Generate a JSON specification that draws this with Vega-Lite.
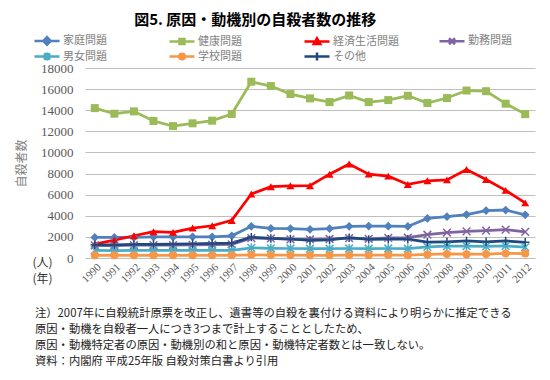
{
  "$schema": "https://vega.github.io/schema/vega-lite/v6.json",
  "background": "white",
  "padding": {"left": 15, "top": 13, "right": 12, "bottom": 5},
  "title": {
    "text": "図5. 原因・動機別の自殺者数の推移",
    "font": "Noto Sans CJK JP",
    "fontSize": 15,
    "fontWeight": "bold",
    "color": "#000000",
    "anchor": "middle",
    "dx": -20,
    "offset": 6
  },
  "vconcat": [
    {
      "width": 450,
      "height": 190,
      "title": {
        "text": [
          "注）2007年に自殺統計原票を改正し、遺書等の自殺を裏付ける資料により明らかに推定できる",
          "原因・動機を自殺者一人につき3つまで計上することとしたため、",
          "原因・動機特定者の原因・動機別の和と原因・動機特定者数とは一致しない。",
          "資料：内閣府 平成25年版 自殺対策白書より引用"
        ],
        "orient": "bottom",
        "anchor": "start",
        "frame": "group",
        "dx": -50,
        "offset": 23,
        "font": "Noto Sans CJK JP",
        "fontSize": 11.3,
        "fontWeight": "normal",
        "color": "#222222",
        "lineHeight": 16
      },
      "data": {
        "values": [
          {"year": "1990", "家庭問題": 1950, "健康問題": 14200, "経済生活問題": 1320, "勤務問題": 1200, "男女問題": 720, "学校問題": 250, "その他": 1250},
          {"year": "1991", "家庭問題": 1950, "健康問題": 13670, "経済生活問題": 1700, "勤務問題": 1180, "男女問題": 710, "学校問題": 250, "その他": 1250},
          {"year": "1992", "家庭問題": 1960, "健康問題": 13890, "経済生活問題": 2110, "勤務問題": 1210, "男女問題": 720, "学校問題": 250, "その他": 1280},
          {"year": "1993", "家庭問題": 1990, "健康問題": 12980, "経済生活問題": 2490, "勤務問題": 1230, "男女問題": 720, "学校問題": 250, "その他": 1300},
          {"year": "1994", "家庭問題": 2000, "健康問題": 12500, "経済生活問題": 2425, "勤務問題": 1220, "男女問題": 720, "学校問題": 250, "その他": 1320},
          {"year": "1995", "家庭問題": 2010, "健康問題": 12760, "経済生活問題": 2835, "勤務問題": 1250, "男女問題": 720, "学校問題": 250, "その他": 1350},
          {"year": "1996", "家庭問題": 2010, "健康問題": 13010, "経済生活問題": 3055, "勤務問題": 1260, "男女問題": 720, "学校問題": 250, "その他": 1380},
          {"year": "1997", "家庭問題": 2100, "健康問題": 13640, "経済生活問題": 3560, "勤務問題": 1300, "男女問題": 730, "学校問題": 250, "その他": 1420},
          {"year": "1998", "家庭問題": 3000, "健康問題": 16700, "経済生活問題": 6058, "勤務問題": 1880, "男女問題": 960, "学校問題": 300, "その他": 1980},
          {"year": "1999", "家庭問題": 2800, "健康問題": 16290, "経済生活問題": 6758, "勤務問題": 1850, "男女問題": 920, "学校問題": 280, "その他": 1850},
          {"year": "2000", "家庭問題": 2790, "健康問題": 15530, "経済生活問題": 6838, "勤務問題": 1760, "男女問題": 900, "学校問題": 270, "その他": 1800},
          {"year": "2001", "家庭問題": 2720, "健康問題": 15120, "経済生活問題": 6845, "勤務問題": 1760, "男女問題": 880, "学校問題": 260, "その他": 1660},
          {"year": "2002", "家庭問題": 2780, "健康問題": 14770, "経済生活問題": 7940, "勤務問題": 1800, "男女問題": 880, "学校問題": 260, "その他": 1720},
          {"year": "2003", "家庭問題": 3000, "健康問題": 15400, "経済生活問題": 8897, "勤務問題": 1880, "男女問題": 900, "学校問題": 270, "その他": 1920},
          {"year": "2004", "家庭問題": 3030, "健康問題": 14770, "経済生活問題": 7947, "勤務問題": 1820, "男女問題": 880, "学校問題": 270, "その他": 1760},
          {"year": "2005", "家庭問題": 3010, "健康問題": 14960, "経済生活問題": 7756, "勤務問題": 1900, "男女問題": 900, "学校問題": 280, "その他": 1780},
          {"year": "2006", "家庭問題": 2990, "健康問題": 15370, "経済生活問題": 6969, "勤務問題": 1920, "男女問題": 880, "学校問題": 270, "その他": 1780},
          {"year": "2007", "家庭問題": 3751, "健康問題": 14684, "経済生活問題": 7318, "勤務問題": 2207, "男女問題": 1050, "学校問題": 338, "その他": 1500},
          {"year": "2008", "家庭問題": 3912, "健康問題": 15153, "経済生活問題": 7404, "勤務問題": 2412, "男女問題": 1115, "学校問題": 387, "その他": 1538},
          {"year": "2009", "家庭問題": 4117, "健康問題": 15867, "経済生活問題": 8377, "勤務問題": 2528, "男女問題": 1121, "学校問題": 364, "その他": 1613},
          {"year": "2010", "家庭問題": 4497, "健康問題": 15802, "経済生活問題": 7438, "勤務問題": 2590, "男女問題": 1103, "学校問題": 371, "その他": 1533},
          {"year": "2011", "家庭問題": 4547, "健康問題": 14621, "経済生活問題": 6406, "勤務問題": 2689, "男女問題": 1138, "学校問題": 429, "その他": 1621},
          {"year": "2012", "家庭問題": 4091, "健康問題": 13629, "経済生活問題": 5219, "勤務問題": 2472, "男女問題": 1035, "学校問題": 417, "その他": 1486}
        ]
      },
      "transform": [
        {"fold": ["家庭問題", "健康問題", "経済生活問題", "勤務問題", "男女問題", "学校問題", "その他"], "as": ["series", "value"]}
      ],
      "encoding": {
        "x": {
          "field": "year",
          "type": "ordinal",
          "scale": {"type": "point", "padding": 0.5},
          "axis": {
            "title": ["(人)", "　(年)"],
            "titleX": -53,
            "titleY": 4,
            "titleAlign": "left",
            "titleAngle": 0,
            "titleBaseline": "middle",
            "titleFont": "Noto Sans CJK JP",
            "titleFontSize": 12,
            "titleFontWeight": "normal",
            "titleColor": "#333333",
            "titleLineHeight": 16.5,
            "labelAngle": -45,
            "labelFont": "Liberation Serif",
            "labelFontSize": 11,
            "labelColor": "#595959",
            "labelPadding": 3,
            "ticks": false,
            "domain": false,
            "grid": false
          }
        },
        "y": {
          "field": "value",
          "type": "quantitative",
          "scale": {"domain": [0, 18000], "nice": false},
          "axis": {
            "title": "自殺者数",
            "titleFont": "Noto Sans CJK JP",
            "titleFontSize": 12,
            "titleFontWeight": "normal",
            "titleColor": "#808080",
            "titlePadding": 12,
            "values": [0, 2000, 4000, 6000, 8000, 10000, 12000, 14000, 16000, 18000],
            "format": "d",
            "labelFont": "Liberation Serif",
            "labelFontSize": 13,
            "labelColor": "#595959",
            "labelPadding": 12,
            "domain": false,
            "ticks": false,
            "grid": true,
            "gridColor": "#bfbfbf",
            "gridWidth": 1
          }
        },
        "color": {
          "field": "series",
          "type": "nominal",
          "sort": ["家庭問題", "健康問題", "経済生活問題", "勤務問題", "男女問題", "学校問題", "その他"],
          "scale": {
            "domain": ["家庭問題", "健康問題", "経済生活問題", "勤務問題", "男女問題", "学校問題", "その他"],
            "range": ["#4f81bd", "#9bbb59", "#ff0000", "#8064a2", "#4bacc6", "#f79646", "#1f497d"]
          },
          "legend": {
            "title": null,
            "orient": "none",
            "legendX": -44.5,
            "legendY": -34,
            "direction": "horizontal",
            "columns": 4,
            "gridAlign": "all",
            "columnPadding": 35,
            "rowPadding": -7,
            "symbolSize": 100,
            "symbolStrokeWidth": 2.5,
            "labelFont": "Noto Sans CJK JP",
            "labelFontSize": 11,
            "labelColor": "#7f7f7f",
            "labelOffset": 9.5,
            "encode": {
              "symbols": {
                "update": {
                  "shape": {"signal": "datum.value === '家庭問題' ? 'M-2.5,0H2.5M0,-0.75L0.75,0L0,0.75L-0.75,0Z' : datum.value === '健康問題' ? 'M-2.5,0H2.5M-0.5,-0.5H0.5V0.5H-0.5Z' : datum.value === '経済生活問題' ? 'M-2.5,0H2.5M0,-0.65L0.65,0.5H-0.65Z' : datum.value === '勤務問題' ? 'M-2.5,0H2.5M-0.6,-0.6L0.6,0.6M-0.6,0.6L0.6,-0.6' : datum.value === '男女問題' ? 'M-2.5,0H2.5M-0.6,-0.6L0.6,0.6M-0.6,0.6L0.6,-0.6M0,-0.8V0.8' : datum.value === '学校問題' ? 'M-2.5,0H2.5M-0.55,0A0.55,0.55 0 1,0 0.55,0A0.55,0.55 0 1,0 -0.55,0Z' : 'M-2.5,0H2.5M0,-0.8V0.8'"},
                  "stroke": {"scale": "color", "field": "value"},
                  "fill": {"scale": "color", "field": "value"},
                  "strokeWidth": {"value": 2.5},
                  "opacity": {"value": 1}
                }
              }
            }
          }
        }
      },
      "layer": [
        {
          "mark": {"type": "line", "strokeWidth": 2.75},
          "encoding": {"detail": {"field": "series"}}
        },
        {
          "transform": [{"filter": {"field": "series", "equal": "家庭問題"}}],
          "mark": {"type": "point", "filled": true, "opacity": 1, "size": 49, "shape": "M0,-1.25L1.25,0L0,1.25L-1.25,0Z"}
        },
        {
          "transform": [{"filter": {"field": "series", "equal": "健康問題"}}],
          "mark": {"type": "point", "filled": true, "opacity": 1, "size": 64, "shape": "square"}
        },
        {
          "transform": [{"filter": {"field": "series", "equal": "経済生活問題"}}],
          "mark": {"type": "point", "filled": true, "opacity": 1, "size": 64, "shape": "triangle-up"}
        },
        {
          "transform": [{"filter": {"field": "series", "equal": "勤務問題"}}],
          "mark": {"type": "point", "filled": false, "opacity": 1, "size": 49, "strokeWidth": 1.5, "shape": "M-1.1,-1.1L1.1,1.1M-1.1,1.1L1.1,-1.1"}
        },
        {
          "transform": [{"filter": {"field": "series", "equal": "男女問題"}}],
          "mark": {"type": "point", "filled": false, "opacity": 1, "size": 49, "strokeWidth": 1.5, "shape": "M-1.1,-1.1L1.1,1.1M-1.1,1.1L1.1,-1.1M0,-1.3V1.3"}
        },
        {
          "transform": [{"filter": {"field": "series", "equal": "学校問題"}}],
          "mark": {"type": "point", "filled": true, "opacity": 1, "size": 64, "shape": "circle"}
        },
        {
          "transform": [{"filter": {"field": "series", "equal": "その他"}}],
          "mark": {"type": "point", "filled": false, "opacity": 1, "size": 49, "strokeWidth": 1.5, "shape": "M-1.2,0H1.2M0,-1.2V1.2"}
        }
      ]
    }
  ],
  "config": {
    "view": {"stroke": null},
    "font": "Noto Sans CJK JP"
  }
}
